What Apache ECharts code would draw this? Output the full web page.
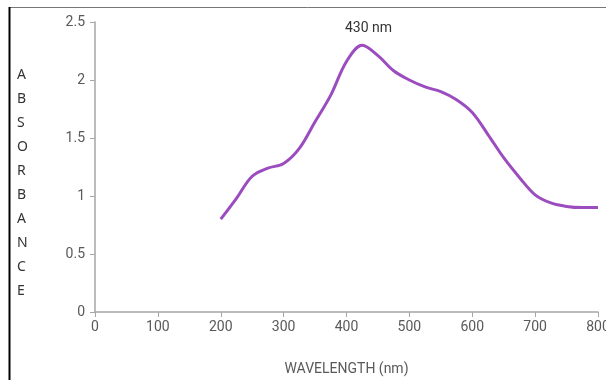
<!DOCTYPE html>
<html><head><meta charset="utf-8">
<script src="https://cdn.jsdelivr.net/npm/echarts@6/dist/echarts.min.js"></script>
<style>html,body{margin:0;padding:0;background:#fff}#c{width:606px;height:380px}</style>
</head><body><div id="c"></div>
<script>
const wavelengths = [200,225,250,275,300,325,350,375,400,425,450,475,500,525,550,575,600,625,650,675,700,725,750,775,800];
const absorbance  = [0.80,0.98,1.17,1.24,1.28,1.41,1.64,1.87,2.16,2.30,2.21,2.08,2.00,1.94,1.90,1.83,1.72,1.53,1.33,1.16,1.01,0.94,0.91,0.90,0.90];
const xTicks = [0,100,200,300,400,500,600,700,800];
const yTicks = [0,0.5,1,1.5,2,2.5];
const peakLabel = '430 nm';
const yName = 'ABSORBANCE';
const xName = 'WAVELENGTH (nm)';

const chart = echarts.init(document.getElementById('c'));
const axisColor = '#a6a6a6';
const labelColor = '#595959';
chart.setOption({
  animation: false,
  grid: {left: 95, right: 8, top: 22, bottom: 68, outerBoundsMode: 'none', containLabel: false},
  title: {text: peakLabel, left: 340, top: 16, textStyle: {fontFamily: 'Roboto', fontSize: 14, fontWeight: 'normal', color: '#333'}},
  xAxis: {
    type: 'value', min: xTicks[0], max: xTicks[xTicks.length-1], interval: 100,
    name: xName, nameLocation: 'middle', nameGap: 50,
    nameTextStyle: {fontFamily: 'Roboto', fontSize: 14, color: labelColor},
    axisLine: {lineStyle: {color: axisColor, width: 1.5}},
    axisTick: {show: true, length: 5, lineStyle: {color: axisColor}},
    axisLabel: {fontFamily: 'Roboto', fontSize: 14, color: labelColor, margin: 8},
    splitLine: {show: false}
  },
  yAxis: {
    type: 'value', min: yTicks[0], max: yTicks[yTicks.length-1], interval: 0.5,
    axisLine: {show: true, lineStyle: {color: axisColor, width: 1.5}},
    axisTick: {show: true, length: 5, lineStyle: {color: axisColor}},
    axisLabel: {fontFamily: 'Roboto', fontSize: 14, color: labelColor, margin: 10},
    splitLine: {show: false}
  },
  series: [{
    type: 'line', smooth: 0.35, symbol: 'none',
    data: wavelengths.map((w,i)=>[w, absorbance[i]]),
    lineStyle: {color: '#9b4dbf', width: 3}
  }],
  graphic: [
    {type: 'line', shape: {x1: 9, y1: 7.5, x2: 606, y2: 7.5}, style: {stroke: '#777', lineWidth: 1}},
    {type: 'line', shape: {x1: 9.5, y1: 7, x2: 9.5, y2: 380}, style: {stroke: '#000', lineWidth: 2}},
    {type: 'text', left: 17, top: 63, style: {text: yName.split('').join('\n'), fontFamily: 'Noto Sans', fontSize: 14, lineHeight: 24, fill: '#333', align: 'center'}}
  ]
});
</script></body></html>
